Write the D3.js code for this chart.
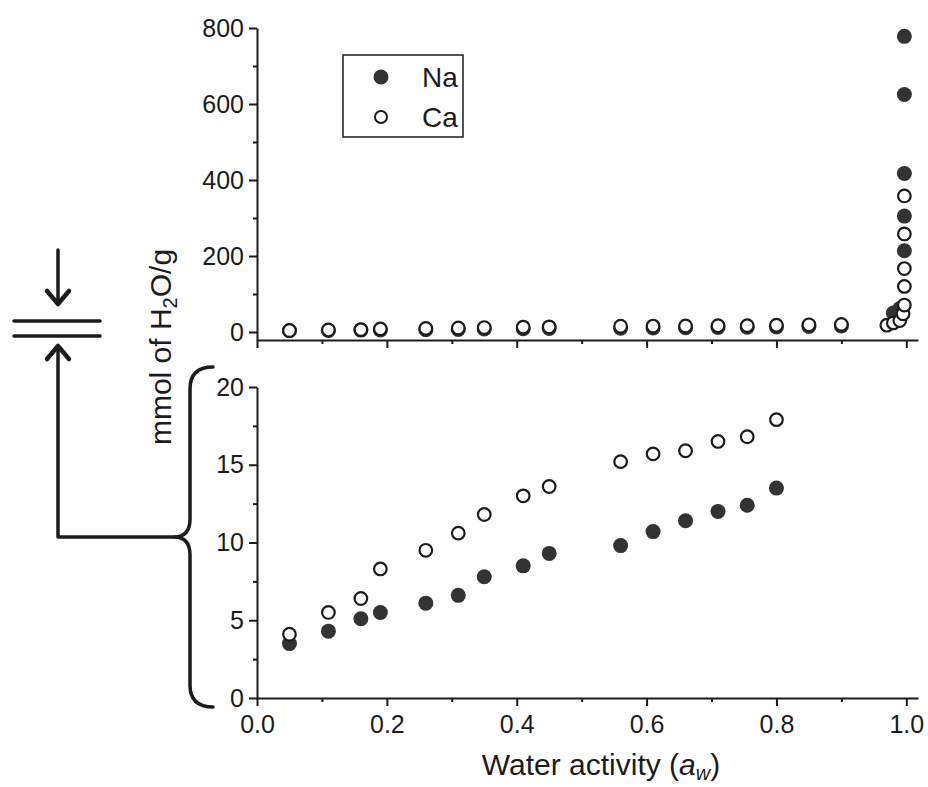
<!DOCTYPE html>
<html>
<head>
<meta charset="utf-8">
<script src="https://cdn.jsdelivr.net/npm/d3@7"></script>
<style>
  body { margin: 0; background: #fff; }
  text { font-family: "Liberation Sans", Arial, sans-serif; fill: #1c1c1c; }
</style>
</head>
<body>
<div id="chart"></div>
<script>
// water activity for the low range (shown in both panels)
var aw = [0.05, 0.11, 0.16, 0.19, 0.26, 0.31, 0.35, 0.41, 0.45, 0.56, 0.61, 0.66, 0.71, 0.755, 0.80];
var naLow = [3.5, 4.3, 5.1, 5.5, 6.1, 6.6, 7.8, 8.5, 9.3, 9.8, 10.7, 11.4, 12.0, 12.4, 13.5];
var caLow = [4.1, 5.5, 6.4, 8.3, 9.5, 10.6, 11.8, 13.0, 13.6, 15.2, 15.7, 15.9, 16.5, 16.8, 17.9];

// extra points only in the upper panel
var awNaHigh = [0.85, 0.90, 0.98, 0.99, 0.997, 0.997, 0.997, 0.997, 0.997];
var naHigh = [14.5, 16, 50, 62, 214, 305, 417, 625, 778];
var awCaHigh = [0.85, 0.90, 0.97, 0.98, 0.99, 0.995, 0.997, 0.997, 0.997, 0.997, 0.997];
var caHigh = [19, 20, 18, 24, 30, 48, 71, 120, 167, 258, 358];

var xMajor = [0, 0.2, 0.4, 0.6, 0.8, 1.0];
var xMinor = [0.1, 0.3, 0.5, 0.7, 0.9];
var yTopMajor = [0, 200, 400, 600, 800];
var yTopMinor = [100, 300, 500, 700];
var yLowMajor = [0, 5, 10, 15, 20];
var yLowMinor = [2.5, 7.5, 12.5, 17.5];

var seriesNames = ["Na", "Ca"];

function pairs(xs, ys) { return xs.map(function (v, i) { return {x: v, y: ys[i]}; }); }

var naLowPts = pairs(aw, naLow), caLowPts = pairs(aw, caLow);
var naAll = naLowPts.concat(pairs(awNaHigh, naHigh));
var caAll = caLowPts.concat(pairs(awCaHigh, caHigh));

var width = 928, height = 787;
var ink = "#1c1c1c";

var svg = d3.select("#chart").append("svg")
    .attr("width", width).attr("height", height);

// shared x scale
var x = d3.scaleLinear().domain([0, 1.018]).range([257, 918]);
// upper panel y
var yTop = d3.scaleLinear().domain([-21, 800]).range([340, 28]);
// lower panel y
var yLow = d3.scaleLinear().domain([0, 20]).range([698, 387]);

function styleAxis(g) {
  g.selectAll("path, line").attr("stroke", ink).attr("stroke-width", 2);
  g.selectAll("text").style("font-size", "25px").attr("fill", ink);
}

// ---- upper panel axes
svg.append("g").attr("transform", "translate(257,0)")
  .call(d3.axisLeft(yTop).tickValues(yTopMajor).tickSize(8).tickPadding(5).tickSizeOuter(0))
  .call(styleAxis);
svg.append("g").attr("transform", "translate(257,0)")
  .call(d3.axisLeft(yTop).tickValues(yTopMinor).tickSize(4).tickFormat("").tickSizeOuter(0))
  .call(styleAxis).select(".domain").remove();
svg.append("g").attr("transform", "translate(0,340)")
  .call(d3.axisBottom(x).tickValues(xMajor).tickSize(8).tickFormat("").tickSizeOuter(0))
  .call(styleAxis);
svg.append("g").attr("transform", "translate(0,340)")
  .call(d3.axisBottom(x).tickValues(xMinor).tickSize(4).tickFormat("").tickSizeOuter(0))
  .call(styleAxis).select(".domain").remove();

// ---- lower panel axes
svg.append("g").attr("transform", "translate(257,0)")
  .call(d3.axisLeft(yLow).tickValues(yLowMajor).tickSize(8).tickPadding(5).tickSizeOuter(0))
  .call(styleAxis);
svg.append("g").attr("transform", "translate(257,0)")
  .call(d3.axisLeft(yLow).tickValues(yLowMinor).tickSize(4).tickFormat("").tickSizeOuter(0))
  .call(styleAxis).select(".domain").remove();
svg.append("g").attr("transform", "translate(0,698)")
  .call(d3.axisBottom(x).tickValues(xMajor).tickSize(8).tickPadding(9).tickFormat(d3.format(".1f")).tickSizeOuter(0))
  .call(styleAxis);
svg.append("g").attr("transform", "translate(0,698)")
  .call(d3.axisBottom(x).tickValues(xMinor).tickSize(4).tickFormat("").tickSizeOuter(0))
  .call(styleAxis).select(".domain").remove();

// ---- points
function drawPoints(data, yScale, filled) {
  svg.append("g").selectAll("circle")
    .data(data).enter().append("circle")
      .attr("cx", function (d) { return x(d.x); })
      .attr("cy", function (d) { return yScale(d.y); })
      .attr("r", filled ? 7.5 : 6.3)
      .attr("fill", filled ? "#333" : "#fff")
      .attr("stroke", filled ? "none" : ink)
      .attr("stroke-width", 2.2);
}
drawPoints(naAll, yTop, true);
drawPoints(caAll, yTop, false);
drawPoints(naLowPts, yLow, true);
drawPoints(caLowPts, yLow, false);

// ---- legend
var legend = svg.append("g");
legend.append("rect")
  .attr("x", 343).attr("y", 55).attr("width", 120).attr("height", 82)
  .attr("fill", "none").attr("stroke", ink).attr("stroke-width", 1.5);
seriesNames.forEach(function (name, i) {
  var cy = 77 + i * 40;
  legend.append("circle")
    .attr("cx", 381).attr("cy", cy).attr("r", i === 0 ? 7.5 : 6)
    .attr("fill", i === 0 ? "#333" : "#fff")
    .attr("stroke", i === 0 ? "none" : ink).attr("stroke-width", 2);
  legend.append("text")
    .attr("x", 422).attr("y", cy + 10)
    .style("font-size", "28px")
    .text(name);
});

// ---- axis titles
var xt = svg.append("text")
  .attr("x", 601).attr("y", 775)
  .attr("text-anchor", "middle")
  .style("font-size", "30px");
xt.append("tspan").text("Water activity (");
xt.append("tspan").style("font-style", "italic").text("a");
xt.append("tspan").style("font-style", "italic").style("font-size", "20px").attr("dy", 5).text("w");
xt.append("tspan").attr("dy", -5).text(")");

var yt = svg.append("text")
  .attr("transform", "translate(171,347) rotate(-90)")
  .attr("text-anchor", "middle")
  .style("font-size", "30px");
yt.append("tspan").text("mmol of H");
yt.append("tspan").style("font-size", "20px").attr("dy", 6).text("2");
yt.append("tspan").attr("dy", -6).text("O/g");

// ---- brace and break marks tying the two panels together
var bTop = yLow(20) - 20, bBot = yLow(0) + 9, bMid = (bTop + bBot) / 2;
var deco = svg.append("g").attr("fill", "none").attr("stroke", ink)
  .attr("stroke-width", 3.5).attr("stroke-linecap", "round").attr("stroke-linejoin", "round");
deco.append("path")
  .attr("d", "M213," + bTop + " Q190," + bTop + " 190," + (bTop + 22) +
    " L190," + (bMid - 18) + " Q190," + bMid + " 174," + bMid +
    " Q190," + bMid + " 190," + (bMid + 18) +
    " L190," + (bBot - 22) + " Q190," + bBot + " 213," + bBot);
// connector and up arrow
deco.append("path").attr("d", "M174," + bMid + " L58," + bMid + " L58,347");
deco.append("path").attr("d", "M47,359 L58,346 L69,359").attr("stroke-width", 4.5);
// down arrow
deco.append("path").attr("d", "M58,250 L58,304");
deco.append("path").attr("d", "M47,291 L58,304 L69,291").attr("stroke-width", 4.5);
// break lines
deco.append("path").attr("d", "M14,321 L100,321 M14,336 L100,336");
</script>
</body>
</html>
